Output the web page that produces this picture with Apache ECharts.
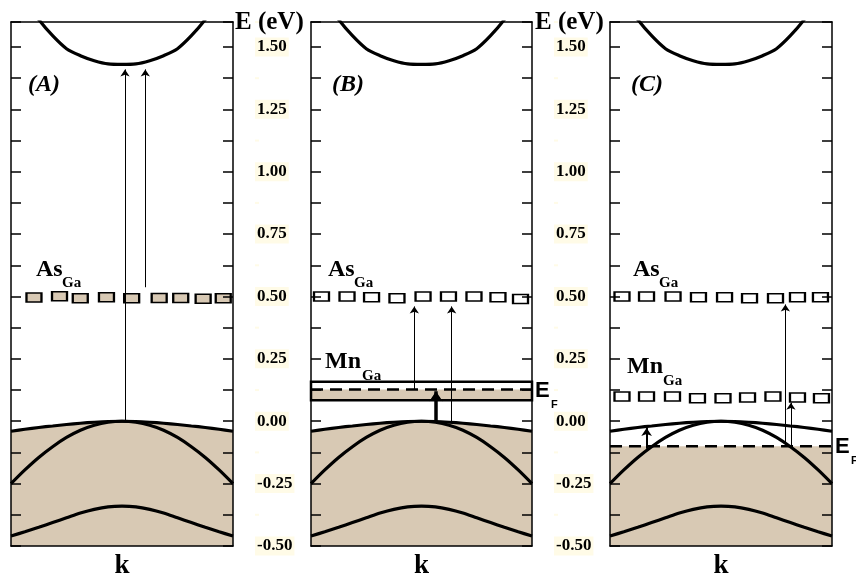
<!DOCTYPE html>
<html>
<head>
<meta charset="utf-8">
<script src="https://cdn.jsdelivr.net/npm/echarts@6/dist/echarts.min.js"></script>
<style>
html, body { margin: 0; padding: 0; background: #fff; }
#chart { width: 856px; height: 573px; }
</style>
</head>
<body>
<div id="chart"></div>
<script>
// band energies (eV) read at these k points, same bands in all three panels
const kPts = [-1, -0.875, -0.75, -0.625, -0.5, -0.375, -0.25, -0.125, 0,
  0.125, 0.25, 0.375, 0.5, 0.625, 0.75, 0.875, 1];
const condBand = [1.78, 1.69, 1.61, 1.545, 1.493, 1.465, 1.445, 1.432, 1.43,
  1.432, 1.445, 1.465, 1.493, 1.545, 1.61, 1.69, 1.78];
const flatVB = [-0.04, -0.032, -0.025, -0.019, -0.013, -0.008, -0.004, -0.001, 0,
  -0.001, -0.004, -0.008, -0.013, -0.019, -0.025, -0.032, -0.04];
const steepVB = [-0.25, -0.195, -0.145, -0.102, -0.065, -0.036, -0.016, -0.004, 0,
  -0.004, -0.016, -0.036, -0.065, -0.102, -0.145, -0.195, -0.25];
const splitOff = [-0.46, -0.443, -0.425, -0.406, -0.387, -0.368, -0.353, -0.343, -0.34,
  -0.343, -0.353, -0.368, -0.387, -0.406, -0.425, -0.443, -0.46];

// As_Ga / Mn_Ga defect level boxes (k position, energy)
const asA_k = [-0.793, -0.563, -0.376, -0.14, 0.087, 0.335, 0.529, 0.731, 0.912];
const asA_E = [0.496, 0.501, 0.493, 0.497, 0.493, 0.494, 0.494, 0.491, 0.493];
const asB_k = [-0.905, -0.674, -0.452, -0.222, 0.014, 0.244, 0.475, 0.692, 0.896];
const asB_E = [0.5, 0.5, 0.497, 0.493, 0.5, 0.5, 0.5, 0.497, 0.49];
const asC_k = [-0.892, -0.671, -0.432, -0.203, 0.032, 0.257, 0.491, 0.689, 0.896];
const asC_E = [0.5, 0.5, 0.5, 0.497, 0.497, 0.493, 0.493, 0.497, 0.497];
const mnC_k = [-0.892, -0.671, -0.437, -0.212, 0.018, 0.239, 0.468, 0.689, 0.905];
const mnC_E = [0.099, 0.099, 0.099, 0.092, 0.092, 0.095, 0.099, 0.095, 0.092];

// panel B Mn_Ga band and Fermi levels
const mnB_bottom = 0.084;
const mnB_top = 0.158;
const efB = 0.127;
const efC = -0.1;

// arrows: [k, E start, E end]
const arrowsA = [[0.027, 0.0, 1.41], [0.21, 0.537, 1.41]];
const arrowsB = [[-0.065, 0.127, 0.46], [0.273, -0.005, 0.46]];
const thickB = [[0.131, 0.0, 0.12]];
const arrowsC = [[0.58, -0.1, 0.468], [0.63, -0.1, 0.074]];
const thickC = [[-0.67, -0.11, -0.027]];

const tan = '#d8c9b4';
const serif = 'Liberation Serif';

const panels = [
  { left: 11, width: 222, labels: true },
  { left: 311, width: 221, labels: true },
  { left: 610, width: 222, labels: false }
];

function pts(ks, es) {
  return ks.map((k, i) => [k, es[i]]);
}

const frame = { show: true, onZero: false, lineStyle: { color: '#000', width: 1.5 } };

const grids = [], xAxes = [], yAxes = [], series = [];
panels.forEach((p, i) => {
  grids.push({ left: p.left, top: 22, width: p.width, height: 524, outerBoundsMode: 'none', containLabel: false });
  xAxes.push({
    gridIndex: i, type: 'value', min: -1, max: 1, position: 'bottom', z: 10,
    axisLine: frame, axisTick: { show: false }, axisLabel: { show: false }, splitLine: { show: false },
    name: 'k', nameLocation: 'middle', nameGap: 7,
    nameTextStyle: { fontFamily: serif, fontWeight: 'bold', fontSize: 27, color: '#000' }
  });
  xAxes.push({
    gridIndex: i, type: 'value', min: -1, max: 1, position: 'top', z: 10,
    axisLine: frame, axisTick: { show: false }, axisLabel: { show: false }, splitLine: { show: false }
  });
  const yBase = {
    gridIndex: i, type: 'value', min: -0.5, max: 1.6, interval: 0.125, z: 10,
    axisLine: frame, splitLine: { show: false },
    axisTick: { inside: true, length: 10, lineStyle: { color: '#000', width: 1.5 } }
  };
  yAxes.push(Object.assign({}, yBase, { position: 'left', axisLabel: { show: false } }));
  yAxes.push(Object.assign({}, yBase, {
    position: 'right',
    axisLabel: {
      show: p.labels, margin: 22, color: '#000', fontFamily: serif, fontWeight: 'bold', fontSize: 17,
      backgroundColor: 'rgba(255,249,215,0.6)', padding: [1, 2],
      formatter: function (v) {
        const q = v * 4;
        return Math.abs(q - Math.round(q)) < 1e-6 ? v.toFixed(2) : '';
      }
    }
  }));
});

function line(i, data, extra) {
  return Object.assign({
    type: 'line', xAxisIndex: 2 * i, yAxisIndex: 2 * i, data: data, smooth: 0.3,
    symbol: 'none', silent: true, z: 3, lineStyle: { color: '#000', width: 3.2 }
  }, extra || {});
}
function boxes(i, ks, es, fill) {
  return {
    type: 'scatter', xAxisIndex: 2 * i, yAxisIndex: 2 * i, data: pts(ks, es), symbol: 'rect',
    symbolSize: [15, 9], silent: true, z: 5,
    itemStyle: { color: fill, borderColor: '#000', borderWidth: 1.8, opacity: 1 }
  };
}
function arrows(i, list, width, size) {
  return {
    type: 'lines', coordinateSystem: 'cartesian2d', xAxisIndex: 2 * i, yAxisIndex: 2 * i,
    silent: true, z: 6, symbol: ['none', 'arrow'], symbolSize: size,
    lineStyle: { color: '#000', width: width, opacity: 1, curveness: 0 },
    data: list.map(a => ({ coords: [[a[0], a[1]], [a[0], a[2]]] }))
  };
}

// panel A
series.push(line(0, pts(kPts, flatVB), { areaStyle: { color: tan, opacity: 1, origin: 'start' } }));
series.push(line(0, pts(kPts, steepVB)));
series.push(line(0, pts(kPts, splitOff)));
series.push(line(0, pts(kPts, condBand)));
series.push(boxes(0, asA_k, asA_E, tan));
series.push(arrows(0, arrowsA, 1, 7));

// panel B
series.push(line(1, pts(kPts, flatVB), { areaStyle: { color: tan, opacity: 1, origin: 'start' } }));
series.push(line(1, pts(kPts, steepVB)));
series.push(line(1, pts(kPts, splitOff)));
series.push(line(1, pts(kPts, condBand)));
series.push(line(1, [[-1, efB], [1, efB]], {
  smooth: false, lineStyle: { color: '#000', width: 2.5, type: [12, 7] },
  markArea: {
    silent: true,
    data: [
      [{ xAxis: -1, yAxis: mnB_bottom, itemStyle: { color: tan } }, { xAxis: 1, yAxis: efB }],
      [{ xAxis: -1, yAxis: mnB_bottom, itemStyle: { color: 'rgba(0,0,0,0)', borderColor: '#000', borderWidth: 2.5 } },
       { xAxis: 1, yAxis: mnB_top }]
    ]
  }
}));
series.push(boxes(1, asB_k, asB_E, '#fff'));
series.push(arrows(1, arrowsB, 1, 7));
series.push(arrows(1, thickB, 3.5, 10));

// panel C
series.push(line(2, [[-1, efC], [1, efC]], {
  smooth: false, lineStyle: { color: '#000', width: 2.5, type: [12, 7] },
  markArea: {
    silent: true,
    data: [[{ xAxis: -1, yAxis: -0.5, itemStyle: { color: tan } }, { xAxis: 1, yAxis: efC }]]
  }
}));
series.push(line(2, pts(kPts, flatVB)));
series.push(line(2, pts(kPts, steepVB)));
series.push(line(2, pts(kPts, splitOff)));
series.push(line(2, pts(kPts, condBand)));
series.push(boxes(2, asC_k, asC_E, '#fff'));
series.push(boxes(2, mnC_k, mnC_E, '#fff'));
series.push(arrows(2, arrowsC, 1, 7));
series.push(arrows(2, thickC, 2, 8));

function txt(text, x, y, font, extra) {
  return {
    type: 'text', x: x, y: y, z: 20, silent: true,
    style: Object.assign({ text: text, font: font, fill: '#000', verticalAlign: 'middle' }, extra || {})
  };
}
const fTitle = 'bold 25px "Liberation Serif"';
const fPanel = 'italic bold 24px "Liberation Serif"';
const fBig = 'bold 24px "Liberation Serif"';
const fSub = 'bold 15px "Liberation Serif"';
const fEF = 'bold 22px "Liberation Sans"';
const fEFsub = 'bold 11px "Liberation Sans"';

const graphics = [
  txt('E (eV)', 235, 23, fTitle), txt('E (eV)', 535, 23, fTitle),
  txt('(A)', 28, 85, fPanel), txt('(B)', 332, 85, fPanel), txt('(C)', 631, 85, fPanel),
  txt('As', 36, 270, fBig), txt('Ga', 62, 283, fSub),
  txt('As', 328, 270, fBig), txt('Ga', 354, 283, fSub),
  txt('Mn', 325, 362, fBig), txt('Ga', 362, 376, fSub),
  txt('As', 633, 270, fBig), txt('Ga', 659, 283, fSub),
  txt('Mn', 627, 367, fBig), txt('Ga', 663, 381, fSub),
  txt('E', 535, 391, fEF), txt('F', 551, 405, fEFsub),
  txt('E', 835, 447, fEF), txt('F', 851, 461, fEFsub)
];

const chart = echarts.init(document.getElementById('chart'));
chart.setOption({
  animation: false,
  backgroundColor: '#fff',
  grid: grids,
  xAxis: xAxes,
  yAxis: yAxes,
  series: series,
  graphic: graphics
});
</script>
</body>
</html>
